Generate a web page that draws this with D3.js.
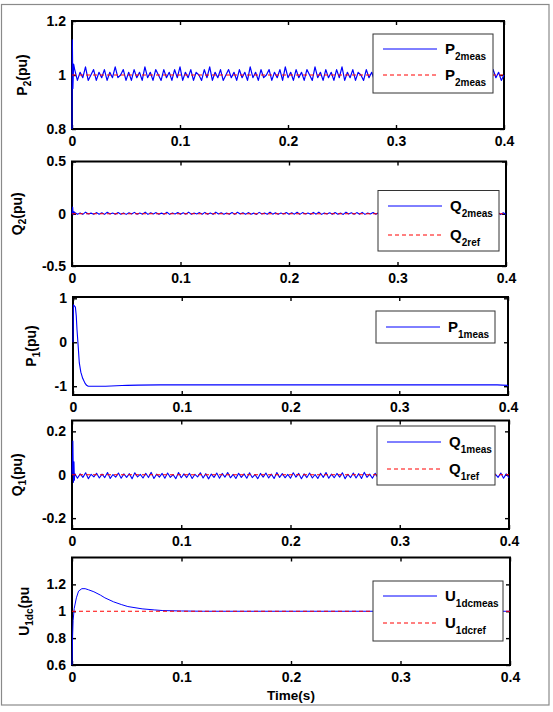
<!DOCTYPE html>
<html><head><meta charset="utf-8">
<script src="https://cdn.jsdelivr.net/npm/d3@7"></script>
<style>
body{margin:0;background:#fff;}
svg{display:block;font-family:"Liberation Sans",Arial,sans-serif;font-weight:bold;}
</style></head><body>
<svg id="c" width="553" height="712"></svg>
<script>
// ---------------- DATA ----------------
const xTickVals = [0, 0.1, 0.2, 0.3, 0.4];
const xTickLabels = ["0", "0.1", "0.2", "0.3", "0.4"];

// sampling grid for the noisy signals (s)
const tGrid = [
0.0025,0.005,0.0075,0.01,0.0125,0.015,0.0175,0.02,0.0225,0.025,0.0275,0.03,0.0325,0.035,0.0375,0.04,0.0425,0.045,0.0475,0.05,
0.0525,0.055,0.0575,0.06,0.0625,0.065,0.0675,0.07,0.0725,0.075,0.0775,0.08,0.0825,0.085,0.0875,0.09,0.0925,0.095,0.0975,0.1,
0.1025,0.105,0.1075,0.11,0.1125,0.115,0.1175,0.12,0.1225,0.125,0.1275,0.13,0.1325,0.135,0.1375,0.14,0.1425,0.145,0.1475,0.15,
0.1525,0.155,0.1575,0.16,0.1625,0.165,0.1675,0.17,0.1725,0.175,0.1775,0.18,0.1825,0.185,0.1875,0.19,0.1925,0.195,0.1975,0.2,
0.2025,0.205,0.2075,0.21,0.2125,0.215,0.2175,0.22,0.2225,0.225,0.2275,0.23,0.2325,0.235,0.2375,0.24,0.2425,0.245,0.2475,0.25,
0.2525,0.255,0.2575,0.26,0.2625,0.265,0.2675,0.27,0.2725,0.275,0.2775,0.28,0.2825,0.285,0.2875,0.29,0.2925,0.295,0.2975,0.3,
0.3025,0.305,0.3075,0.31,0.3125,0.315,0.3175,0.32,0.3225,0.325,0.3275,0.33,0.3325,0.335,0.3375,0.34,0.3425,0.345,0.3475,0.35,
0.3525,0.355,0.3575,0.36,0.3625,0.365,0.3675,0.37,0.3725,0.375,0.3775,0.38,0.3825,0.385,0.3875,0.39,0.3925,0.395,0.3975,0.4];

// P2 measured: start-up points then grid values
const p2StartT = [0, 0.0003, 0.0008, 0.0015];
const p2StartV = [0.8, 1.13, 0.95, 1.04];
const p2Meas = [
1.02,0.98,1.01,0.99,1.03,0.98,1.00,1.02,0.98,1.01,0.99,1.02,0.98,1.01,0.99,1.03,0.99,1.00,1.02,0.98,
1.01,0.98,1.02,0.99,1.01,0.98,1.03,0.99,1.01,0.98,1.02,1.00,0.98,1.02,0.99,1.01,0.98,1.02,0.99,1.03,
0.98,1.01,0.99,1.02,0.98,1.01,1.00,0.98,1.02,0.99,1.03,0.98,1.01,0.99,1.02,0.98,1.00,1.02,0.99,1.01,
0.98,1.02,0.99,1.01,0.98,1.03,0.99,1.01,0.98,1.02,0.99,1.00,1.02,0.98,1.01,0.99,1.02,0.98,1.03,0.99,
1.01,0.98,1.02,0.99,1.01,0.98,1.02,1.00,0.98,1.03,0.99,1.01,0.98,1.02,0.99,1.01,0.98,1.02,0.99,1.03,
0.98,1.01,0.99,1.02,0.98,1.01,1.00,0.98,1.02,0.99,1.01,0.98,1.03,0.99,1.01,0.98,1.02,0.99,1.01,0.98,
1.02,0.99,1.03,0.98,1.01,0.99,1.02,0.98,1.01,1.00,0.98,1.02,0.99,1.03,0.98,1.01,0.99,1.02,0.98,1.01,
0.99,1.02,0.98,1.01,0.99,1.03,0.98,1.02,0.99,1.01,0.98,1.02,0.99,1.01,0.98,1.02,0.99,1.01,0.98,1.00];
const p2Ref = [1, 1];

// Q2 measured
const q2StartT = [0, 0.0006, 0.0011, 0.0018];
const q2StartV = [0.0, 0.065, -0.01, 0.02];
const q2Meas = [
0.012,-0.004,0.008,-0.006,0.015,-0.003,0.006,-0.005,0.011,-0.004,0.009,-0.006,0.014,-0.002,0.007,-0.005,0.012,-0.004,0.008,-0.006,
0.010,-0.003,0.013,-0.005,0.007,-0.004,0.016,-0.006,0.009,-0.003,0.011,-0.005,0.006,-0.004,0.014,-0.006,0.008,-0.003,0.012,-0.005,
0.009,-0.004,0.015,-0.006,0.007,-0.003,0.011,-0.005,0.013,-0.004,0.008,-0.006,0.016,-0.003,0.010,-0.005,0.007,-0.004,0.012,-0.006,
0.014,-0.003,0.009,-0.005,0.011,-0.004,0.006,-0.006,0.013,-0.003,0.008,-0.005,0.015,-0.004,0.010,-0.006,0.007,-0.003,0.012,-0.005,
0.009,-0.004,0.014,-0.006,0.011,-0.003,0.007,-0.005,0.013,-0.004,0.016,-0.006,0.008,-0.003,0.010,-0.005,0.012,-0.004,0.006,-0.006,
0.015,-0.003,0.009,-0.005,0.011,-0.004,0.013,-0.006,0.007,-0.003,0.012,-0.005,0.010,-0.004,0.014,-0.006,0.008,-0.003,0.011,-0.005,
0.016,-0.004,0.009,-0.006,0.012,-0.003,0.007,-0.005,0.013,-0.004,0.010,-0.006,0.015,-0.003,0.008,-0.005,0.011,-0.004,0.014,-0.006,
0.009,-0.003,0.012,-0.005,0.016,-0.004,0.010,-0.006,0.013,-0.003,0.008,-0.005,0.015,-0.004,0.011,-0.006,0.014,-0.008,0.010,-0.006];
const q2Ref = [0, 0];

// P1 measured (smooth transient)
const p1T = [0,0.0004,0.0022,0.003,0.0037,0.0048,0.0058,0.0072,0.0089,0.011,0.0125,0.014,0.02,0.03,0.04,0.045,0.05,0.06,0.08,0.1,0.15,0.2,0.25,0.3,0.35,0.39,0.3995,0.4];
const p1Meas = [0,0.85,0.8,0.6,0.28,-0.1,-0.47,-0.68,-0.82,-0.93,-0.98,-1.0,-1.0,-1.0,-0.99,-0.985,-0.98,-0.975,-0.97,-0.97,-0.97,-0.97,-0.97,-0.97,-0.97,-0.97,-0.98,-1.0];

// Q1 measured
const q1StartT = [0, 0.0008, 0.0013, 0.0018, 0.0022];
const q1StartV = [0.0, 0.155, -0.035, 0.06, -0.025];
const q1Meas = [
0.006,-0.016,0.004,-0.012,0.009,-0.018,0.002,-0.010,0.007,-0.015,0.003,-0.013,0.010,-0.017,0.001,-0.011,0.008,-0.016,0.004,-0.012,
0.005,-0.018,0.009,-0.010,0.002,-0.015,0.007,-0.013,0.011,-0.017,0.003,-0.011,0.006,-0.016,0.008,-0.012,0.001,-0.018,0.010,-0.014,
0.004,-0.013,0.007,-0.017,0.002,-0.010,0.009,-0.015,0.005,-0.019,0.003,-0.012,0.008,-0.016,0.006,-0.011,0.010,-0.014,0.002,-0.017,
0.007,-0.012,0.004,-0.016,0.009,-0.013,0.001,-0.018,0.006,-0.011,0.008,-0.015,0.003,-0.017,0.010,-0.012,0.005,-0.014,0.002,-0.016,
0.009,-0.011,0.006,-0.018,0.004,-0.013,0.008,-0.015,0.001,-0.017,0.007,-0.012,0.010,-0.016,0.003,-0.014,0.006,-0.011,0.009,-0.018,
0.002,-0.013,0.008,-0.015,0.005,-0.017,0.011,-0.012,0.003,-0.016,0.007,-0.014,0.004,-0.011,0.009,-0.018,0.006,-0.013,0.001,-0.015,
0.008,-0.017,0.005,-0.012,0.010,-0.016,0.002,-0.014,0.007,-0.011,0.004,-0.018,0.009,-0.013,0.006,-0.015,0.003,-0.017,0.008,-0.012,
0.005,-0.016,0.010,-0.014,0.002,-0.011,0.007,-0.018,0.004,-0.013,0.009,-0.015,0.006,-0.017,0.003,-0.012,0.008,-0.016,0.004,-0.014];
const q1Ref = [0, 0];

// U1dc measured (smooth transient)
const u1T = [0,0.0005,0.001,0.002,0.004,0.006,0.009,0.012,0.015,0.02,0.026,0.03,0.038,0.045,0.051,0.064,0.075,0.083,0.1,0.12,0.2,0.3,0.4];
const u1Meas = [0.6,0.8,0.93,1.02,1.1,1.15,1.168,1.168,1.16,1.145,1.12,1.1,1.07,1.05,1.035,1.018,1.01,1.005,1.002,1.0,1.0,1.0,1.0];
const u1Ref = [1, 1];

// y-axis ticks per panel
const yTicksP2 = [0.8, 1, 1.2];
const yTicksQ2 = [-0.5, 0, 0.5];
const yTicksP1 = [-1, 0, 1];
const yTicksQ1 = [-0.2, 0, 0.2];
const yTicksU1 = [0.6, 0.8, 1, 1.2];

// ---------------- BUILD SERIES ----------------
function gridSeries(startT, startV, body) {
  const pts = startT.map((t, i) => [t, startV[i]]);
  body.forEach((v, i) => { if (i < tGrid.length) pts.push([tGrid[i], v]); });
  return pts;
}
const refT = [0, 0.4];
const pair = (ts, vs) => ts.map((t, i) => [t, vs[i]]);

const panels = [
  {L:72, R:504, T:21, B:129, dom:[0.8,1.2], ticks:yTicksP2, ylab:["P","2","(pu)"], ylx:27, sw:1.2,
   meas:gridSeries(p2StartT,p2StartV,p2Meas), ref:pair(refT,p2Ref),
   leg:{x0:373,y0:34,x1:493,y1:93, rows:[49,75], labels:[["P","2meas"],["P","2meas"]]}},
  {L:72, R:506, T:161.5, B:266, dom:[-0.5,0.5], ticks:yTicksQ2, ylab:["Q","2","(pu)"], ylx:22, sw:1.1,
   meas:gridSeries(q2StartT,q2StartV,q2Meas), ref:pair(refT,q2Ref),
   leg:{x0:378,y0:190.5,x1:499,y1:251, rows:[206,235], labels:[["Q","2meas"],["Q","2ref"]]}},
  {L:73, R:508, T:297, B:395, dom:[-1.2,1.03], ticks:yTicksP1, ylab:["P","1","(pu)"], ylx:36, sw:1.1,
   meas:pair(p1T,p1Meas), ref:null,
   leg:{x0:376,y0:311,x1:495,y1:343, rows:[327], labels:[["P","1meas"]]}},
  {L:72, R:509, T:420.5, B:529, dom:[-0.25,0.25], ticks:yTicksQ1, ylab:["Q","1","(pu)"], ylx:22, sw:1.1,
   meas:gridSeries(q1StartT,q1StartV,q1Meas), ref:pair(refT,q1Ref),
   leg:{x0:377,y0:426,x1:495,y1:485, rows:[442,469], labels:[["Q","1meas"],["Q","1ref"]]}},
  {L:72, R:510, T:557.5, B:665, dom:[0.6,1.4], ticks:yTicksU1, ylab:["U","1dc","(pu"], ylx:29, sw:1,
   meas:pair(u1T,u1Meas), ref:pair(refT,u1Ref),
   leg:{x0:373,y0:581,x1:503,y1:641, rows:[596,623], labels:[["U","1dcmeas"],["U","1dcref"]]}}
];

// ---------------- DRAW ----------------
const svg = d3.select("#c");
svg.append("rect").attr("x",1.5).attr("y",4.5).attr("width",547.5).attr("height",700.5)
  .attr("fill","#fff").attr("stroke","#8a8a8a").attr("stroke-width",1.2);

const BLUE = "#0000ff", RED = "#ff0000";
const fmt = d => String(d);
const FONT = '"Liberation Sans",Arial,sans-serif';

panels.forEach((p, idx) => {
  const x = d3.scaleLinear().domain([0, 0.4]).range([p.L, p.R]);
  const y = d3.scaleLinear().domain(p.dom).range([p.B, p.T]);
  const g = svg.append("g");
  const cid = "clip" + idx;
  svg.append("clipPath").attr("id", cid).append("rect")
    .attr("x", p.L - 1).attr("y", p.T).attr("width", p.R - p.L + 2).attr("height", p.B - p.T);

  // axes
  const ax = (gen, tx, ty) => {
    const a = g.append("g").attr("transform", `translate(${tx},${ty})`).call(gen);
    a.select(".domain").remove();
    a.selectAll(".tick line").attr("stroke","#000").attr("stroke-width",1.4);
    a.selectAll("text").attr("fill","#000").style("font-size","14px").style("font-weight","bold")
      .style("font-family",FONT);
    return a;
  };
  ax(d3.axisBottom(x).tickValues(xTickVals).tickFormat((d,i)=>xTickLabels[i]).tickSizeInner(-4).tickSizeOuter(0).tickPadding(7), 0, p.B);
  ax(d3.axisTop(x).tickValues(xTickVals).tickFormat("").tickSizeInner(-4).tickSizeOuter(0), 0, p.T);
  ax(d3.axisLeft(y).tickValues(p.ticks).tickFormat(fmt).tickSizeInner(-4).tickSizeOuter(0).tickPadding(6), p.L, 0);
  ax(d3.axisRight(y).tickValues(p.ticks).tickFormat("").tickSizeInner(-4).tickSizeOuter(0), p.R, 0);

  g.append("rect").attr("x", p.L).attr("y", p.T).attr("width", p.R - p.L).attr("height", p.B - p.T)
    .attr("fill","none").attr("stroke","#000").attr("stroke-width",2);

  // data drawn over the frame (as in the original)
  const line = d3.line().x(d => x(d[0])).y(d => y(d[1]));
  const data = g.append("g").attr("clip-path", `url(#${cid})`);
  data.append("path").attr("d", line(p.meas)).attr("fill","none")
    .attr("stroke", BLUE).attr("stroke-width", p.sw).attr("stroke-linejoin","round");
  if (p.ref) {
    data.append("path").attr("d", line(p.ref)).attr("fill","none")
      .attr("stroke", RED).attr("stroke-width", 1).attr("stroke-dasharray","4,3");
  }

  // y label
  const cy = (p.T + p.B) / 2;
  const yl = g.append("text").attr("transform", `translate(${p.ylx},${cy}) rotate(-90)`)
    .attr("text-anchor","middle").style("font-size","14px").attr("fill","#000");
  yl.append("tspan").text(p.ylab[0]);
  yl.append("tspan").attr("dy", 4).style("font-size","10px").text(p.ylab[1]);
  yl.append("tspan").attr("dy", -4).text(p.ylab[2]);

  // legend
  const lg = p.leg;
  const lgG = g.append("g");
  lgG.append("rect").attr("x", lg.x0).attr("y", lg.y0).attr("width", lg.x1 - lg.x0).attr("height", lg.y1 - lg.y0)
    .attr("fill","#fff").attr("stroke","#333").attr("stroke-width",1);
  lg.rows.forEach((ry, k) => {
    lgG.append("line").attr("x1", lg.x0 + 10).attr("x2", lg.x0 + 64).attr("y1", ry).attr("y2", ry)
      .attr("stroke", k === 0 ? BLUE : RED).attr("stroke-width", 1)
      .attr("stroke-dasharray", k === 0 ? null : "4,3");
    const t = lgG.append("text").attr("x", lg.x0 + 72).attr("y", ry + 5).attr("fill","#000").style("font-size","15px");
    t.append("tspan").text(lg.labels[k][0]);
    t.append("tspan").attr("dy", 6).style("font-size","10px").text(lg.labels[k][1]);
  });
});

svg.append("text").attr("x", 291).attr("y", 700).attr("text-anchor","middle")
  .style("font-size","13.5px").attr("fill","#000").text("Time(s)");
</script>
</body></html>
